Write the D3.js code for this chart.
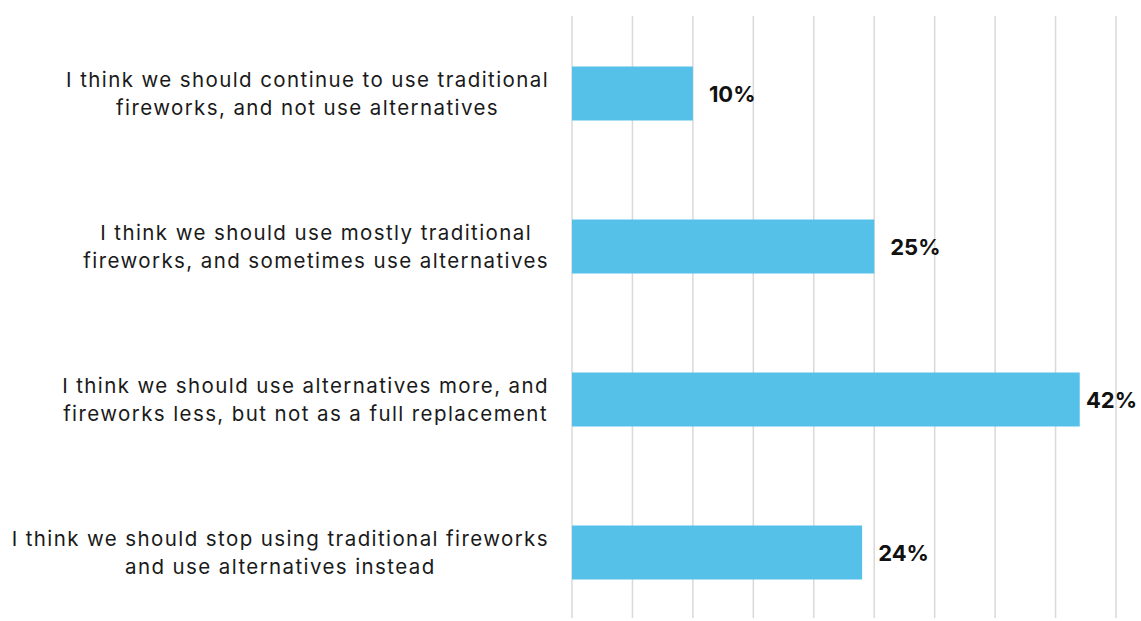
<!DOCTYPE html>
<meta charset="utf-8">
<style>
body { margin: 0; background: #fff; }
.cat { font: 20.5px Inter, "Noto Sans", Arial; fill: #1a1a1a; letter-spacing: 1.4px; }
.val { font: bold 22px Inter, "Noto Sans", Arial; fill: #111; }
.grid line { stroke: #d9d9d9; stroke-width: 1.5; }
</style>
<body>
<div id="chart"></div>
<script src="https://d3js.org/d3.v7.min.js"></script>
<script>

var categories = [
  ["I think we should continue to use traditional", "fireworks, and not use alternatives"],
  ["I think we should use mostly traditional", "fireworks, and sometimes use alternatives"],
  ["I think we should use alternatives more, and", "fireworks less, but not as a full replacement"],
  ["I think we should stop using traditional fireworks", "and use alternatives instead"]
];
var values = [10, 25, 42, 24];
var gridTicks = [0, 5, 10, 15, 20, 25, 30, 35, 40, 45];

var width = 1141, height = 621;

var svg = d3.select("#chart").append("svg")
  .attr("width", width)
  .attr("height", height);

var x = d3.scaleLinear().domain([0, 45]).range([572, 1116]);
var y = d3.scaleBand()
  .domain(d3.range(categories.length))
  .range([17, 629])
  .paddingInner(0.647)
  .paddingOuter(0.3235);

// grid lines
svg.append("g").attr("class", "grid")
  .selectAll("line")
  .data(gridTicks)
  .enter().append("line")
  .attr("x1", d => x(d)).attr("x2", d => x(d))
  .attr("y1", 16).attr("y2", 618);

// bars
svg.selectAll(".bar")
  .data(values)
  .enter().append("rect")
  .attr("class", "bar")
  .attr("x", x(0))
  .attr("y", (d, i) => y(i))
  .attr("width", d => x(d) - x(0))
  .attr("height", y.bandwidth())
  .style("fill", "#56c1e8");

// value labels (pushed back inside the right edge if needed)
svg.selectAll(".val")
  .data(values)
  .enter().append("text")
  .attr("class", "val")
  .attr("y", (d, i) => y(i) + y.bandwidth() / 2 + 8)
  .text(d => d + "%")
  .attr("x", function(d) {
    var w = this.getComputedTextLength();
    return Math.min(x(d) + 16, width - 4 - w);
  });

// category labels, lines centred in a block that is right aligned
var labelRight = 549, lineH = 28;
categories.forEach(function(lines, i) {
  var g = svg.append("g");
  var texts = lines.map(function(l) {
    return g.append("text").attr("class", "cat").text(l);
  });
  var maxW = d3.max(texts, t => t.node().getComputedTextLength());
  var cx = labelRight - maxW / 2;
  var cy = y(i) + y.bandwidth() / 2;
  texts.forEach(function(t, j) {
    t.attr("x", cx)
     .attr("y", cy + (j - (lines.length - 1) / 2) * lineH + 7)
     .attr("text-anchor", "middle");
  });
});

</script>
</body>
